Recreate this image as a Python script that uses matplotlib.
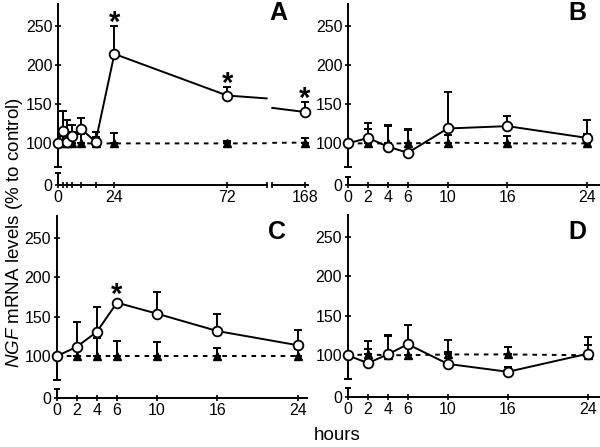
import numpy as np
import matplotlib
matplotlib.use("Agg")
import matplotlib.pyplot as plt

plt.rcParams['font.family'] = ['Liberation Sans', 'DejaVu Sans']
plt.rcParams['mathtext.fontset'] = 'custom'
plt.rcParams['mathtext.it'] = 'Liberation Sans:italic'
plt.rcParams['mathtext.rm'] = 'Liberation Sans'

# time points (hours)
hours = [0, 2, 4, 6, 10, 16, 24]
hours_a = [0, 2, 4, 6, 10, 16, 24, 72, 168]

# open circles: value and upper SEM
a_open = [100, 116, 102, 109, 118, 102, 214, 161, 140]
a_open_err = [0, 25, 28, 14, 14, 13, 36, 11, 13]
b_open = [100, 107, 96, 88, 119, 122, 107]
b_open_err = [0, 19, 27, 30, 46, 13, 23]
c_open = [100, 112, 131, 168, 154, 132, 114]
c_open_err = [0, 31, 31, 0, 27, 22, 19]
d_open = [100, 90, 101, 114, 89, 79, 102]
d_open_err = [0, 18, 25, 24, 15, 6, 21]

# filled triangles (controls)
a_tri = [100, 100, 100, 100, 100, 100, 100, 100, 101]
a_tri_err = [0, 10, 12, 14, 12, 8, 13, 3, 6]
b_tri = [100, 100, 100, 100, 101, 100, 100]
b_tri_err = [0, 18, 22, 17, 10, 10, 12]
c_tri = [100, 100, 100, 100, 100, 100, 100]
c_tri_err = [0, 10, 23, 19, 18, 10, 9]
d_tri = [100, 101, 100, 100, 101, 101, 100]
d_tri_err = [0, 17, 24, 10, 18, 9, 13]

zero_err = 30  # lower SEM of the 0 h point

# significant points
a_stars = [24, 72, 168]
c_stars = [6]

# broken y axis: the "0" tick is drawn just under the 100-250 range
Y0, YTOP = 47, 278
# broken x axis in panel A
BRK_LO, BRK_HI, BRK_POS, BRK_SCALE = 88.8, 144.0, 91.2, 0.579

W, H = 600, 447
fig = plt.figure(figsize=(W / 100, H / 100), dpi=100)


def xa(t):
    t = np.asarray(t, float)
    return np.where(t <= BRK_LO, t, BRK_POS + (t - BRK_HI) * BRK_SCALE)


def cut_path(t, v):
    # straight segments, cut where they cross the x break of panel A
    xs, ys = [], []
    for i in range(len(t)):
        if i > 0 and t[i - 1] < BRK_LO and t[i] > BRK_HI:
            seg_t, seg_v = t[i - 1:i + 1], v[i - 1:i + 1]
            xs += [BRK_LO, np.nan, BRK_HI]
            ys += [np.interp(BRK_LO, seg_t, seg_v), np.nan, np.interp(BRK_HI, seg_t, seg_v)]
        xs.append(t[i])
        ys.append(v[i])
    return xa(xs), np.array(ys)


def rect(left, right, bottom, top):
    return [left / W, 1 - bottom / H, (right - left) / W, (bottom - top) / H]


def errbars(ax, x, v, up):
    x, v, up = np.asarray(x, float), np.asarray(v, float), np.asarray(up, float)
    keep = up > 0
    ax.errorbar(x[keep], v[keep], yerr=[np.zeros(keep.sum()), up[keep]], fmt='none',
                ecolor='k', elinewidth=1.4, capsize=2.8, capthick=1.4, zorder=2, clip_on=False)


def panel(box, x, x_line, open_v, open_e, tri_v, tri_e, stars, xmax,
          xticks, xlabels, minor=(), stub=11, broken_x=False):
    ax = fig.add_axes(box)
    ax.set_xlim(0, xmax)
    ax.set_ylim(Y0, YTOP)
    for s in ['top', 'right']:
        ax.spines[s].set_visible(False)
    ax.spines['left'].set_bounds(70, YTOP)
    ax.spines['left'].set_linewidth(1.4)
    ax.spines['bottom'].set_linewidth(1.4)
    # lower piece of the broken y axis
    ax.plot([0, 0], [Y0, Y0 + stub], color='k', lw=1.4, clip_on=False, zorder=3)
    ax.plot([0], [Y0 + stub], marker='_', ms=5, mew=1.4, color='k', clip_on=False)

    if broken_x:
        ax.spines['bottom'].set_visible(False)
        tr = ax.get_xaxis_transform()
        ax.plot([0, BRK_LO], [0, 0], color='k', lw=1.4, transform=tr, clip_on=False)
        ax.plot([BRK_POS, xmax], [0, 0], color='k', lw=1.4, transform=tr, clip_on=False)
        ax.plot([BRK_LO, BRK_POS], [0, 0], ls='none', marker='|', ms=5, mew=1.2,
                color='k', transform=tr, clip_on=False)

    # control line and triangles
    tx, ty = x_line(tri_v)
    ax.plot(tx, ty, color='k', lw=1.4, ls=(0, (2.4, 2.6)), zorder=1, clip_on=False)
    errbars(ax, x, tri_v, tri_e)
    ax.plot(x[1:], tri_v[1:], ls='none', marker='^', ms=6, color='k', zorder=3, clip_on=False)

    # treated: open circles
    errbars(ax, x, open_v, open_e)
    ax.errorbar([x[0]], [open_v[0]], yerr=[[zero_err], [0]], fmt='none', ecolor='k',
                elinewidth=1.4, capsize=2.8, capthick=1.4, zorder=2, clip_on=False)
    ox, oy = x_line(open_v)
    ax.plot(ox, oy, color='k', lw=1.4, zorder=4, clip_on=False)
    ax.plot(x, open_v, ls='none', marker='o', ms=7, mfc='white', mec='k', mew=1.3,
            zorder=5, clip_on=False)

    hrs = hours_a if broken_x else hours
    for s in stars:
        i = hrs.index(s)
        top = open_v[i] + max(open_e[i], 6)
        ax.annotate('*', (x[i], top), xytext=(0, -3.5), textcoords='offset points',
                    ha='center', va='baseline', fontsize=21, fontweight='bold')

    ax.set_yticks([Y0, 100, 150, 200, 250])
    ax.set_yticklabels(['0', '100', '150', '200', '250'])
    ax.set_xticks(xticks)
    ax.set_xticklabels(xlabels)
    if len(minor):
        ax.set_xticks(minor, minor=True)
    ax.tick_params(which='both', direction='inout', length=5, width=1.2, pad=1.5,
                   labelsize=11.5, color='k')
    ax.tick_params(axis='x', which='both', pad=1)
    return ax


plain_x = np.array(hours, float)


def plain_line(v):
    return plain_x, np.array(v, float)


def a_line(v):
    return cut_path(np.array(hours_a, float), np.array(v, float))


xa_pts = xa(hours_a)
panel(rect(58, 308, 185, 3.7), xa_pts, a_line, a_open, a_open_err, a_tri, a_tri_err,
      a_stars, 106.4, xa([0, 24, 72, 168]), ['0', '24', '72', '168'],
      minor=xa([2, 4, 6, 10, 16]), stub=15, broken_x=True)
panel(rect(348, 599, 185, 3.7), plain_x, plain_line, b_open, b_open_err, b_tri, b_tri_err,
      [], 25.2, hours, [str(h) for h in hours], stub=10)
panel(rect(56.7, 306.7, 398, 216), plain_x, plain_line, c_open, c_open_err, c_tri, c_tri_err,
      c_stars, 24.9, hours, [str(h) for h in hours], stub=11)
panel(rect(347.7, 599, 397, 215), plain_x, plain_line, d_open, d_open_err, d_tri, d_tri_err,
      [], 25.1, hours, [str(h) for h in hours], stub=11)

for letter, px, py in [('A', 278, 13), ('B', 577, 13), ('C', 277, 232), ('D', 577, 232)]:
    fig.text(px / W, 1 - py / H, letter, ha='center', va='center', fontsize=18,
             fontweight='bold')

fig.text(15 / W, 1 - 233 / H, r'$\mathit{NGF}$ mRNA levels (% to control)', rotation=90,
         ha='center', va='center', fontsize=13.5)
fig.text(337 / W, 1 - 436 / H, 'hours', ha='center', va='center', fontsize=13.5)

fig.savefig('out.png', dpi=100)
